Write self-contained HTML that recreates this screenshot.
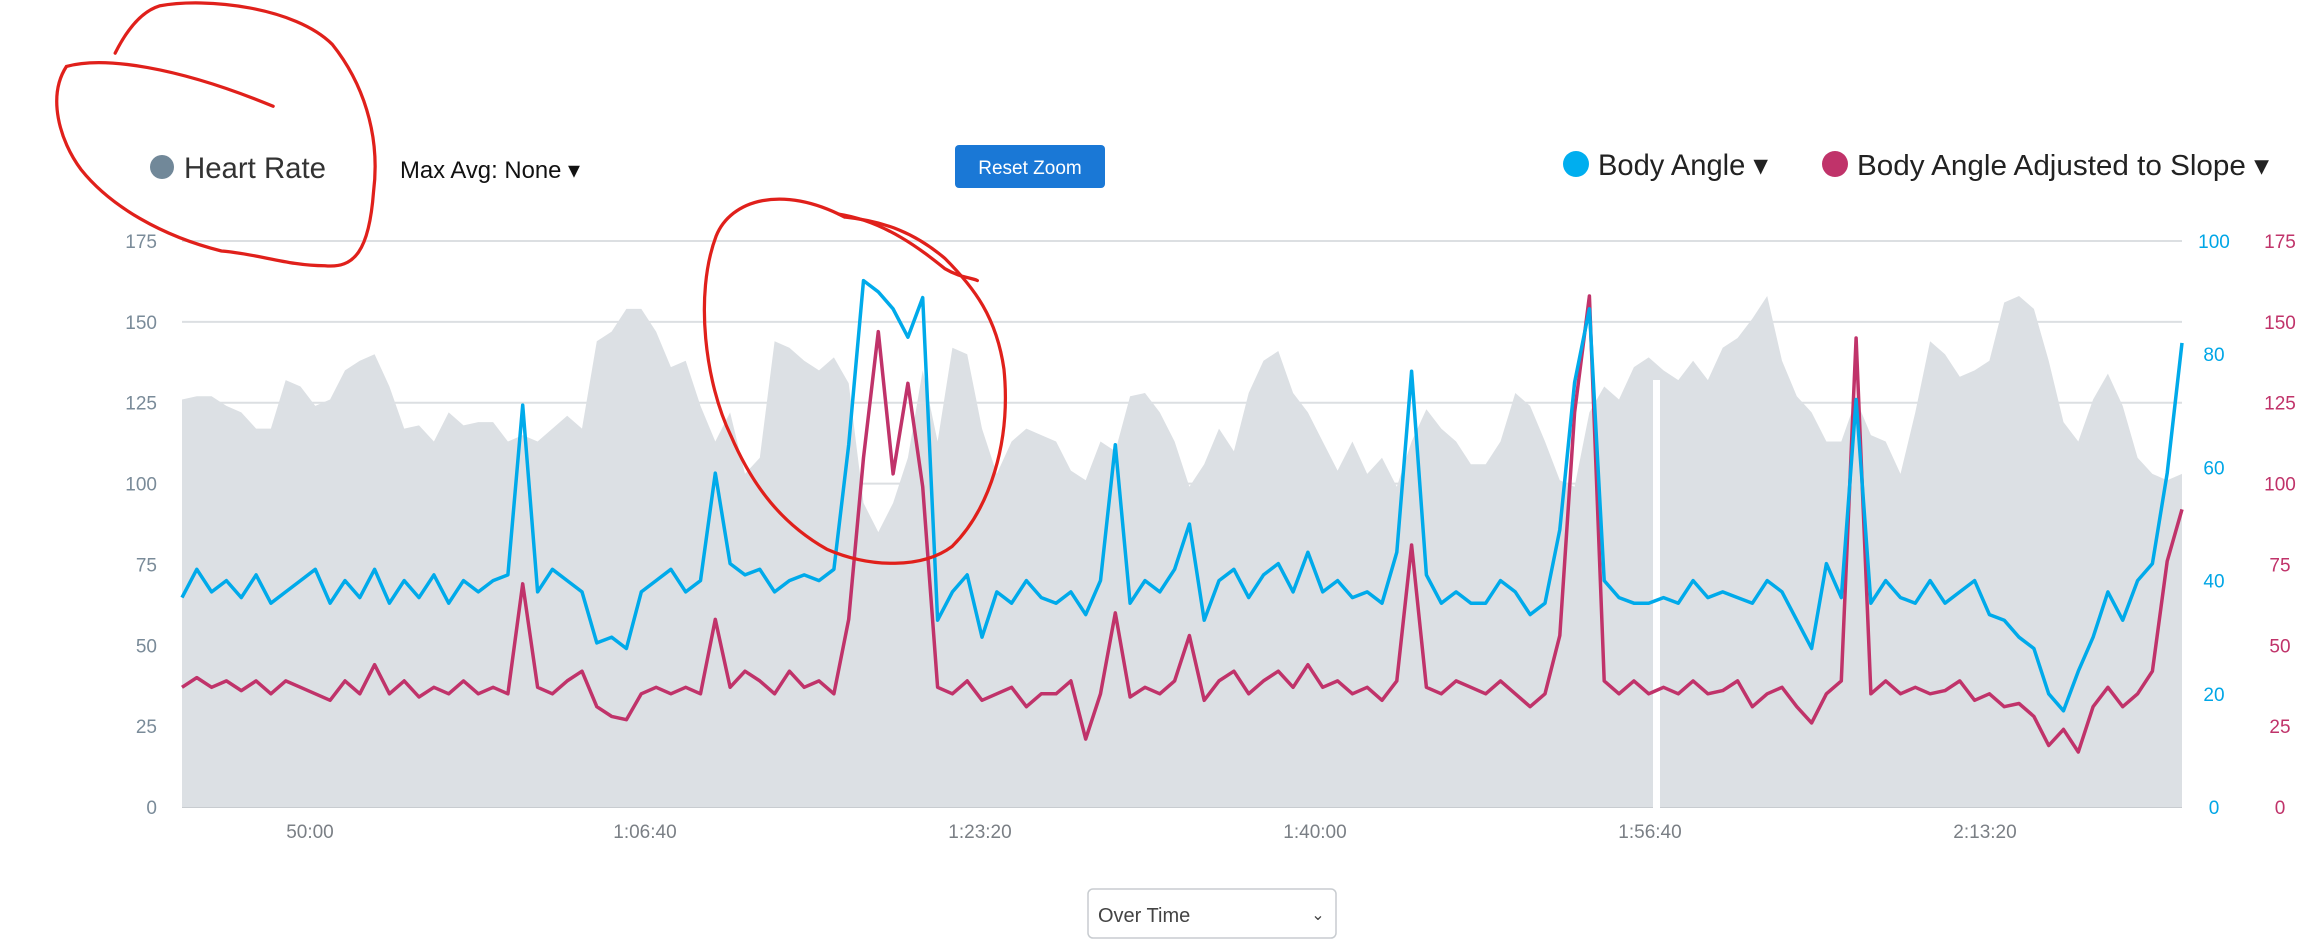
<!DOCTYPE html>
<html><head><meta charset="utf-8">
<style>
html,body{margin:0;padding:0;background:#fff;width:2315px;height:950px;overflow:hidden;font-family:"Liberation Sans",sans-serif;}
svg{position:absolute;left:0;top:0;}
</style></head>
<body>
<svg id="chart" width="2315" height="950" viewBox="0 0 2315 950" xmlns="http://www.w3.org/2000/svg">
  <g id="grid"></g>
  <g id="area"></g>
  <rect x="1653" y="380" width="7" height="430" fill="#fff"/>
  <g id="lines"></g>
  <g id="axes"></g>

  <g>
    <circle cx="162" cy="167" r="12" fill="#718899"/>
    <text x="184" y="178" font-size="30" fill="#333" textLength="142" lengthAdjust="spacingAndGlyphs">Heart Rate</text>
  </g>
  <text x="400" y="178" font-size="24" fill="#111" textLength="180" lengthAdjust="spacingAndGlyphs">Max Avg: None ▾</text>
  <g>
    <rect x="955" y="145" width="150" height="43" rx="4" fill="#1a78d6"/>
    <text x="1030" y="174" font-size="19" fill="#fff" text-anchor="middle">Reset Zoom</text>
  </g>
  <g>
    <circle cx="1576" cy="164" r="13" fill="#00aeef"/>
    <text x="1598" y="175" font-size="30" fill="#222" textLength="170" lengthAdjust="spacingAndGlyphs">Body Angle ▾</text>
  </g>
  <g>
    <circle cx="1835" cy="164" r="13" fill="#c0336a"/>
    <text x="1857" y="175" font-size="29" fill="#222" textLength="412" lengthAdjust="spacingAndGlyphs">Body Angle Adjusted to Slope ▾</text>
  </g>
  <g>
    <rect x="1088" y="889" width="248" height="49" rx="5" fill="#fff" stroke="#c8ccd0" stroke-width="1.5"/>
    <text x="1098" y="922" font-size="20" fill="#444">Over Time</text>
    <text x="1318" y="920" font-size="16" fill="#444" text-anchor="middle">⌄</text>
  </g>
  <g transform="scale(1.4764)" fill="none" stroke="#e0201b" stroke-width="2.2" stroke-linecap="round">
    <path d="M78,36 C85,22 95,8 108,4 C140,-2 200,5 225,30 C245,55 258,90 253,130 C250,170 240,182 220,180 C195,180 175,172 150,170 C110,160 75,140 55,115 C40,95 32,65 45,45 C70,38 120,45 185,72"/>
    <path d="M568,145 C600,150 625,170 640,182 C650,188 658,188 662,190"/>
    <path d="M572,147 C530,125 495,135 485,160 C470,200 478,260 495,295 C510,330 530,355 560,372 C590,385 625,385 645,370 C670,345 685,300 680,250 C675,215 660,195 640,175 C620,158 600,150 572,147"/>
  </g>
</svg>
<script>
const timeStart = 2618, timeEnd = 8588;
const heartRate = [126,127,127,124,122,117,117,132,130,124,126,135,138,140,130,117,118,113,122,118,119,119,113,115,113,117,121,117,144,147,154,154,147,136,138,124,113,122,103,108,144,142,138,135,139,131,94,85,94,108,135,113,142,140,117,103,113,117,115,113,104,101,113,110,127,128,122,113,99,106,117,110,128,138,141,128,122,113,104,113,103,108,99,113,123,117,113,106,106,113,128,124,113,101,99,122,130,126,136,139,135,132,138,132,142,145,151,158,138,127,122,113,113,126,115,113,103,122,144,140,133,135,138,156,158,154,138,119,113,126,134,124,108,103,101,103];
const bodyAngle = [37,42,38,40,37,41,36,38,40,42,36,40,37,42,36,40,37,41,36,40,38,40,41,71,38,42,40,38,29,30,28,38,40,42,38,40,59,43,41,42,38,40,41,40,42,64,93,91,88,83,90,33,38,41,30,38,36,40,37,36,38,34,40,64,36,40,38,42,50,33,40,42,37,41,43,38,45,38,40,37,38,36,45,77,41,36,38,36,36,40,38,34,36,49,75,88,40,37,36,36,37,36,40,37,38,37,36,40,38,33,28,43,37,72,36,40,37,36,40,36,38,40,34,33,30,28,20,17,24,30,38,33,40,43,59,82];
const bodyAngleAdj = [37,40,37,39,36,39,35,39,37,35,33,39,35,44,35,39,34,37,35,39,35,37,35,69,37,35,39,42,31,28,27,35,37,35,37,35,58,37,42,39,35,42,37,39,35,58,108,147,103,131,99,37,35,39,33,35,37,31,35,35,39,21,35,60,34,37,35,39,53,33,39,42,35,39,42,37,44,37,39,35,37,33,39,81,37,35,39,37,35,39,35,31,35,53,122,158,39,35,39,35,37,35,39,35,36,39,31,35,37,31,26,35,39,145,35,39,35,37,35,36,39,33,35,31,32,28,19,24,17,31,37,31,35,42,76,92];
const leftTicks = [0,25,50,75,100,125,150,175];
const blueTicks = [0,20,40,60,80,100];
const timeTicks = [3000,4000,5000,6000,7000,8000];
const timeTickLabels = ["50:00","1:06:40","1:23:20","1:40:00","1:56:40","2:13:20"];

const L=182,R=2182,T=241,B=807;
const NS='http://www.w3.org/2000/svg';
function xT(t){return L+(t-timeStart)/(timeEnd-timeStart)*(R-L);}
function xI(i,n){return L+i/(n-1)*(R-L);}
function yL(v){return B-v/175*(B-T);}
function yB(v){return B-v/100*(B-T);}
function mk(tag,attrs,parent){const e=document.createElementNS(NS,tag);for(const k in attrs)e.setAttribute(k,attrs[k]);parent.appendChild(e);return e;}

const grid=document.getElementById('grid'), axes=document.getElementById('axes');
leftTicks.forEach(v=>{
  const ln=mk('line',{x1:L,x2:R,y1:yL(v),y2:yL(v),stroke:v===0?'#c8ccd0':'#dcdfe2','stroke-width':2},grid);
  
  
  const t=mk('text',{x:157,y:yL(v)+7,'font-size':19,fill:'#7a8b99','text-anchor':'end'},axes);
  t.textContent=v;
  
  
  const t2=mk('text',{x:2280,y:yL(v)+7,'font-size':19,fill:'#c0336a','text-anchor':'middle'},axes);
  t2.textContent=v;
  
  
});
blueTicks.forEach(v=>{
  const t=mk('text',{x:2214,y:yB(v)+7,'font-size':19,fill:'#00a6e6','text-anchor':'middle'},axes);
  t.textContent=v;
  
  
});
timeTicks.forEach((tt,i)=>{
  const t=mk('text',{x:xT(tt),y:838,'font-size':19,fill:'#7a7f85','text-anchor':'middle'},axes);
  t.textContent=timeTickLabels[i];
  
  
});

let d='M'+L+','+B;
heartRate.forEach((v,i)=>{d+=' L'+xI(i,heartRate.length).toFixed(1)+','+yL(v).toFixed(1);});
d+=' L'+R+','+B+' Z';
const area=mk('path',{d:d,fill:'#dce0e4'},document.getElementById('area'));



const lines=document.getElementById('lines');
function line(arr,yf){return arr.map((v,i)=>(i?'L':'M')+xI(i,arr.length).toFixed(1)+','+yf(v).toFixed(1)).join(' ');}
const pa=mk('path',{d:line(bodyAngleAdj,yL),fill:'none',stroke:'#c0336a','stroke-width':3.5,'stroke-linejoin':'round'},lines);


const pb=mk('path',{d:line(bodyAngle,yB),fill:'none',stroke:'#00aaea','stroke-width':3.5,'stroke-linejoin':'round'},lines);


</script>
</body></html>
